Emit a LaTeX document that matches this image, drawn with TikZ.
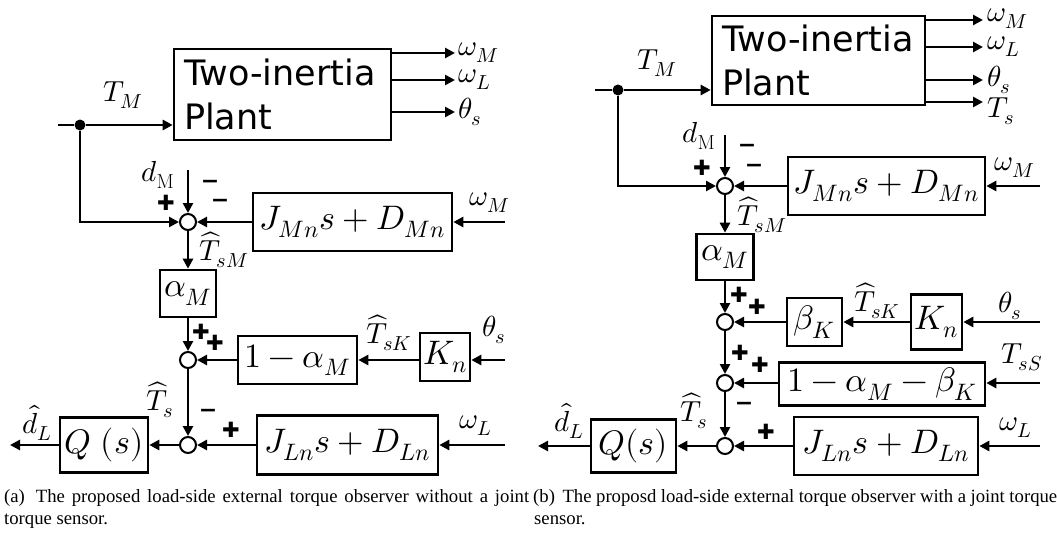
\documentclass[tikz,border=0pt]{standalone}
\usepackage{fontspec}
\usepackage{unicode-math}
\setmathfont{Latin Modern Math}
\newfontfamily\djv{DejaVu Sans}
\newfontfamily\capfont{Liberation Serif}
\usetikzlibrary{arrows.meta}
\newcommand\bxfont{\fontsize{34}{40}\selectfont}
\newcommand\lbfont{\fontsize{29}{34}\selectfont}
\tikzset{
  blk/.style={draw, line width=2.6pt, inner sep=0pt, font=\bxfont},
  plantbox/.style={draw, line width=2.6pt, inner xsep=10pt, inner ysep=0pt, align=left,
    font=\djv\fontsize{35}{44}\selectfont},
  sumc/.style={circle, draw, line width=2pt, minimum size=16pt, inner sep=0pt, fill=white},
  dotn/.style={circle, fill=black, minimum size=11pt, inner sep=0pt},
  sig/.style={line width=2.6pt, -{Triangle[length=10pt,width=10pt]}},
  wire/.style={line width=2.6pt},
  lbl/.style={font=\lbfont, inner sep=0pt},
  plus/.style={font=\djv\fontsize{21}{21}\selectfont, inner sep=0pt},
  minus/.style={font=\djv\bfseries\fontsize{22}{22}\selectfont, inner sep=0pt},
  capn/.style={font=\capfont\fontsize{18.7}{22}\selectfont, inner sep=0pt, anchor=base west},
}
\begin{document}
\begin{tikzpicture}[x=1pt,y=-1pt]
\useasboundingbox (0,0) rectangle (1057,535);
% ================= (a) =================
\node[plantbox, minimum width=217pt, minimum height=91pt, text width=197pt] (pA) at (282.5,94.5) {Two-inertia\\Plant};
\coordinate (aoM) at (455,53);
\coordinate (aoL) at (455,80);
\coordinate (aoT) at (455,112);
\draw[sig] (pA.east |- aoM) -- (aoM);
\draw[sig] (pA.east |- aoL) -- (aoL);
\draw[sig] (pA.east |- aoT) -- (aoT);
\node[lbl, anchor=west] (aoMl) at ([xshift=3pt]aoM) {$\omega_M$};
\node[lbl, anchor=west] (aoLl) at ([xshift=3pt]aoL) {$\omega_L$};
\node[lbl, anchor=west] (aoTl) at ([xshift=3pt]aoT) {$\theta_s$};
\coordinate (aIn) at (58,125);
\node[dotn] (aDot) at (80,125) {};
\node[lbl] (aTM) at (123,95) {$T_M$};
\draw[wire] (aIn) -- (aDot);
\draw[sig] (aDot) -- (aDot -| pA.west);
\node[sumc] (aS1) at (188,222) {};
\draw[sig] (aDot) |- (aS1.west);
\coordinate (adM) at (188,170);
\draw[sig] (adM) -- (aS1.north);
\node[lbl] (adMl) at (158,175) {$d_{\mathrm{M}}$};
\node[minus] (am1) at (210,184) {−};
\node[minus] (am2) at (220,203) {−};
\node[plus] (ap1) at (166,203) {✚};
\node[blk, minimum width=199pt, minimum height=58pt] (aJM) at (352.5,222) {$J_{Mn}s+D_{Mn}$};
\coordinate (aiM) at (505,222);
\node[lbl] (aiMl) at (490,203) {$\omega_M$};
\draw[sig] (aiM) -- (aJM.east);
\draw[sig] (aJM.west) -- (aS1.east);
\node[blk, minimum width=56pt, minimum height=47pt] (aA) at (188,293.5) {$\alpha_M$};
\draw[sig] (aS1.south) -- (aA.north);
\node[lbl] (aTsM) at (224,250) {$\widehat{T}_{sM}$};
\node[sumc] (aS2) at (188,360) {};
\draw[sig] (aA.south) -- (aS2.north);
\node[plus] (ap2) at (201,332) {✚};
\node[plus] (ap3) at (215,343) {✚};
\node[blk, minimum width=119pt, minimum height=48pt] (a1A) at (297.5,360) {$1-\alpha_M$};
\node[blk, minimum width=50pt, minimum height=48pt] (aK) at (445,357) {$K_n$};
\coordinate (aiT) at (505,360);
\node[lbl] (aiTl) at (494,330) {$\theta_s$};
\node[lbl] (aTsK) at (389,333) {$\widehat{T}_{sK}$};
\draw[sig] (aiT) -- (aiT -| aK.east);
\draw[sig] (aK.west |- aiT) -- (a1A.east |- aiT);
\draw[sig] (a1A.west |- aS2) -- (aS2.east);
\node[sumc] (aS3) at (188,445) {};
\draw[sig] (aS2.south) -- (aS3.north);
\node[lbl] (aTs) at (160,400) {$\widehat{T}_s$};
\node[minus] (am3) at (208,413) {−};
\node[plus] (ap4) at (231,430) {✚};
\node[blk, minimum width=181pt, minimum height=59pt] (aJL) at (347.5,445) {$J_{Ln}s+D_{Ln}$};
\coordinate (aiL) at (505,445);
\node[lbl] (aiLl) at (476,426) {$\omega_L$};
\draw[sig] (aiL) -- (aJL.east);
\draw[sig] (aJL.west) -- (aS3.east);
\node[blk, minimum width=88pt, minimum height=55pt] (aQ) at (104,445) {$Q\;(s)$};
\draw[sig] (aS3.west) -- (aQ.east);
\coordinate (adL) at (10,445);
\draw[sig] (aQ.west) -- (adL);
\node[lbl] (adLl) at (37,423) {$\hat{d}_L$};
% ================= (b) =================
\node[plantbox, minimum width=213pt, minimum height=89pt, text width=193pt] (pB) at (818.5,60.5) {Two-inertia\\Plant};
\coordinate (boM) at (983,20);
\coordinate (boL) at (983,47);
\coordinate (boT) at (983,80);
\coordinate (boS) at (983,102);
\draw[sig] (pB.east |- boM) -- (boM);
\draw[sig] (pB.east |- boL) -- (boL);
\draw[sig] (pB.east |- boT) -- (boT);
\draw[sig] (pB.east |- boS) -- (boS);
\node[lbl, anchor=west] (boMl) at ([xshift=4pt,yshift=1pt]boM) {$\omega_M$};
\node[lbl, anchor=west] (boLl) at ([xshift=4pt]boL) {$\omega_L$};
\node[lbl, anchor=west] (boTl) at ([xshift=4pt]boT) {$\theta_s$};
\node[lbl, anchor=west] (boSl) at ([xshift=4pt,yshift=-9pt]boS) {$T_s$};
\coordinate (bIn) at (595,90);
\node[dotn] (bDot) at (618,90) {};
\node[lbl] (bTM) at (657,63) {$T_M$};
\draw[wire] (bIn) -- (bDot);
\draw[sig] (bDot) -- (bDot -| pB.west);
\node[sumc] (bS1) at (725,186) {};
\draw[sig] (bDot) |- (bS1.west);
\coordinate (bdM) at (725,135);
\draw[sig] (bdM) -- (bS1.north);
\node[lbl] (bdMl) at (699,136) {$d_{\mathrm{M}}$};
\node[minus] (bm1) at (747,148) {−};
\node[minus] (bm2) at (754,168) {−};
\node[plus] (bp1) at (702,168) {✚};
\node[blk, minimum width=197pt, minimum height=58pt] (bJM) at (886.5,186) {$J_{Mn}s+D_{Mn}$};
\coordinate (biM) at (1040,186);
\node[lbl] (biMl) at (1015,168) {$\omega_M$};
\draw[sig] (biM) -- (bJM.east);
\draw[sig] (bJM.west) -- (bS1.east);
\node[blk, minimum width=57pt, minimum height=46pt] (bA) at (725,257) {$\alpha_M$};
\draw[sig] (bS1.south) -- (bA.north);
\node[lbl] (bTsM) at (762,215) {$\widehat{T}_{sM}$};
\node[sumc] (bS2) at (725,322) {};
\draw[sig] (bA.south) -- (bS2.north);
\node[plus] (bp2) at (739,295) {✚};
\node[plus] (bp3) at (757,307) {✚};
\node[blk, minimum width=55pt, minimum height=48pt] (bB) at (814.5,322) {$\beta_K$};
\node[blk, minimum width=51pt, minimum height=55pt] (bK) at (936.5,322) {$K_n$};
\coordinate (biT) at (1040,322);
\node[lbl] (biTl) at (1010,306) {$\theta_s$};
\node[lbl] (bTsK) at (877,301) {$\widehat{T}_{sK}$};
\draw[sig] (biT) -- (bK.east);
\draw[sig] (bK.west) -- (bB.east);
\draw[sig] (bB.west) -- (bS2.east);
\node[sumc] (bS3) at (725,383) {};
\draw[sig] (bS2.south) -- (bS3.north);
\node[plus] (bp4) at (740,353) {✚};
\node[plus] (bp5) at (760,365) {✚};
\node[blk, minimum width=206pt, minimum height=43pt] (b1AB) at (882,384) {$1-\alpha_M-\beta_K$};
\coordinate (biS) at (1040,383);
\node[lbl] (biSl) at (1022,357) {$T_{sS}$};
\draw[sig] (biS) -- (biS -| b1AB.east);
\draw[sig] (b1AB.west |- bS3) -- (bS3.east);
\node[sumc] (bS4) at (725,446) {};
\draw[sig] (bS3.south) -- (bS4.north);
\node[lbl] (bTs) at (694,411) {$\widehat{T}_s$};
\node[minus] (bm3) at (744,406) {−};
\node[plus] (bp6) at (766,432) {✚};
\node[blk, minimum width=184pt, minimum height=58pt] (bJL) at (886,446) {$J_{Ln}s+D_{Ln}$};
\coordinate (biL) at (1040,446);
\node[lbl] (biLl) at (1016,428) {$\omega_L$};
\draw[sig] (biL) -- (bJL.east);
\draw[sig] (bJL.west) -- (bS4.east);
\node[blk, minimum width=85pt, minimum height=53pt] (bQ) at (633.5,446) {$Q(s)$};
\draw[sig] (bS4.west) -- (bQ.east);
\coordinate (bdL) at (538,446);
\draw[sig] (bQ.west) -- (bdL);
\node[lbl] (bdLl) at (569,421) {$\hat{d}_L$};
% ================= captions =================
\node[capn] (capA1) at (4,502) {\makebox[525pt][s]{(a)\hspace{4pt} The proposed load-side external torque observer without a joint}};
\node[capn] (capA2) at (4,524) {torque sensor.};
\node[capn] (capB1) at (533,502) {\makebox[524pt][s]{(b)\hspace{3pt} The proposd load-side external torque observer with a joint torque}};
\node[capn] (capB2) at (534,524) {sensor.};
\end{tikzpicture}
\end{document}
